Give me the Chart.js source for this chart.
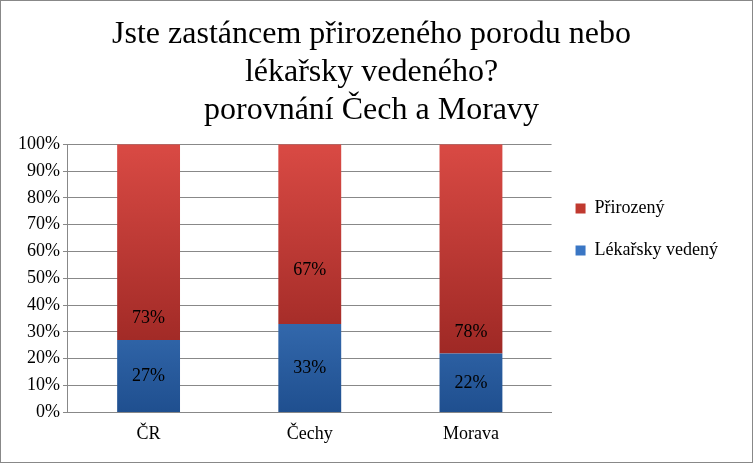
<!DOCTYPE html>
<html>
<head>
<meta charset="utf-8">
<script src="https://cdn.jsdelivr.net/npm/chart.js@4"></script>
<style>
  body { margin: 0; background: #fff; }
  #wrap { width: 751px; height: 461px; border: 1px solid #888; position: relative; }
</style>
</head>
<body>
<div id="wrap"><canvas id="myChart" width="751" height="461"></canvas></div>
<script>
const categories = ['ČR', 'Čechy', 'Morava'];
const lekarsky = [27, 33, 22];
const prirozeny = [73, 67, 78];
// where the upper label sits (in % of the axis)
const topLabelPos = [35, 53, 30];

function grad(ctx, dark, light) {
  const area = ctx.chart.chartArea;
  if (!area) return light;
  const g = ctx.chart.ctx.createLinearGradient(0, area.bottom, 0, area.top);
  g.addColorStop(0, dark);
  g.addColorStop(1, light);
  return g;
}

const labelPlugin = {
  id: 'labels',
  afterDatasetsDraw(chart) {
    const c = chart.ctx;
    const y = chart.scales.y;
    c.save();
    c.font = '18px "Liberation Serif"';
    c.fillStyle = '#000';
    c.textAlign = 'center';
    c.textBaseline = 'middle';
    chart.getDatasetMeta(0).data.forEach(function(bar, i) {
      c.fillText(lekarsky[i] + '%', bar.x, y.getPixelForValue(lekarsky[i] / 2));
      c.fillText(prirozeny[i] + '%', bar.x, y.getPixelForValue(topLabelPos[i]));
    });
    c.restore();
  }
};

new Chart('myChart', {
  type: 'bar',
  data: {
    labels: categories,
    datasets: [
      { label: 'Lékařsky vedený', data: lekarsky,
        backgroundColor: ctx => grad(ctx, '#1f4f8f', '#5a9ae6') },
      { label: 'Přirozený', data: prirozeny,
        backgroundColor: ctx => grad(ctx, '#8e1f1c', '#d94a44') }
    ]
  },
  options: {
    responsive: false,
    animation: false,
    layout: { padding: { left: 14, right: 24, top: 10, bottom: 14 } },
    datasets: { bar: { barPercentage: 0.39, categoryPercentage: 1 } },
    plugins: {
      title: {
        display: true,
        text: ['Jste zastáncem přirozeného porodu nebo', 'lékařsky vedeného?', 'porovnání Čech a Moravy'],
        font: { family: 'Liberation Serif', size: 32, weight: 'normal' },
        color: '#000',
        padding: { top: 4, bottom: 14 },
        lineHeight: 1.2
      },
      legend: {
        position: 'right',
        reverse: true,
        labels: {
          font: { family: 'Liberation Serif', size: 18 },
          color: '#000',
          boxWidth: 10, boxHeight: 10, padding: 24,
          generateLabels(chart) {
            const cols = ['#3a76c4', '#c0392f'];
            return chart.data.datasets.map((d, i) => ({
              text: d.label, fillStyle: cols[i], strokeStyle: cols[i], lineWidth: 0, datasetIndex: i
            }));
          }
        }
      },
      tooltip: { enabled: false }
    },
    scales: {
      x: {
        stacked: true,
        grid: { display: false },
        border: { color: '#888' },
        ticks: { font: { family: 'Liberation Serif', size: 18 }, color: '#000' }
      },
      y: {
        stacked: true, min: 0, max: 100,
        grid: { color: '#888', drawTicks: true, tickLength: 5 },
        border: { color: '#888' },
        ticks: { stepSize: 10, callback: v => v + '%', font: { family: 'Liberation Serif', size: 18 }, color: '#000' }
      }
    }
  },
  plugins: [labelPlugin]
});
</script>
</body>
</html>
